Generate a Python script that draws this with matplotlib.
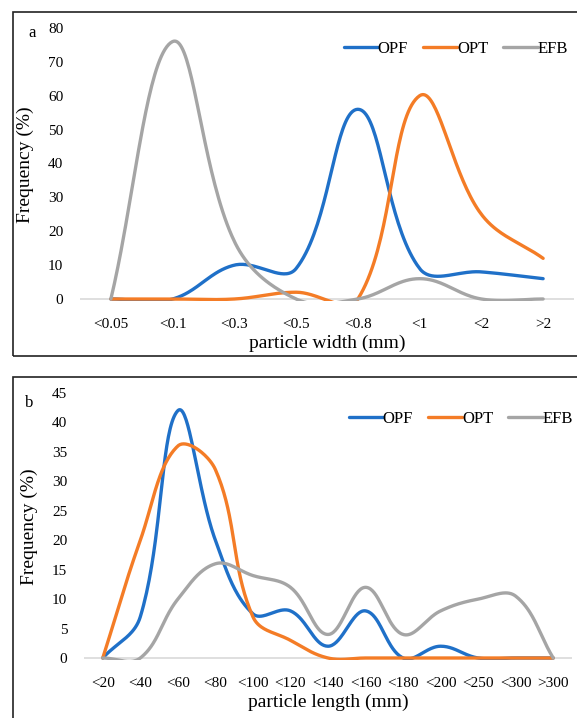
#----------------------------------------------------------------------
# import libraries
#----------------------------------------------------------------------

import numpy as np
import matplotlib
matplotlib.use("Agg")
import matplotlib.pyplot as plt
from matplotlib.patches import Rectangle

plt.rcParams['font.family'] = ['Liberation Serif', 'DejaVu Serif']

#----------------------------------------------------------------------
# data: particle size distribution (frequency %)
#----------------------------------------------------------------------

width_labels = ['<0.05', '<0.1', '<0.3', '<0.5', '<0.8', '<1', '<2', '>2']
width_opf = [0, 0, 10, 9, 56, 9, 8, 6]
width_opt = [0, 0, 0, 2, 0, 60, 25, 12]
width_efb = [0, 76, 17, 0, 0, 6, 0, 0]

length_labels = ['<20', '<40', '<60', '<80', '<100', '<120', '<140',
                 '<160', '<180', '<200', '<250', '<300', '>300']
length_opf = [0, 7, 42, 20, 7.5, 8, 2, 8, 0, 2, 0, 0, 0]
length_opt = [0, 20, 36, 32, 7, 3, 0, 0, 0, 0, 0, 0, 0]
length_efb = [0, 0, 10, 16, 14, 12, 4, 12, 4, 8, 10, 10.5, 0]

series_names = ['OPF', 'OPT', 'EFB']
colors = ['#1F70C8', '#F47C26', '#A5A5A5']

W, H = 577, 718


#----------------------------------------------------------------------
# smooth line like excel (bezier, control points weighted by chord length)
#----------------------------------------------------------------------

def smooth(ax, y, t=0.38, n=40):
    pts = ax.transData.transform(np.column_stack([np.arange(len(y)), y]))
    out = [pts[:1]]
    for i in range(len(pts) - 1):
        p1, p2 = pts[i], pts[i + 1]
        p0 = pts[i - 1] if i > 0 else p1
        p3 = pts[i + 2] if i + 2 < len(pts) else p2
        # outgoing control at p1
        d01 = np.hypot(*(p1 - p0))
        d12 = np.hypot(*(p2 - p1))
        c1 = p1 + t * d12 / (d01 + d12) * (p2 - p0)
        # incoming control at p2
        d23 = np.hypot(*(p3 - p2))
        c2 = p2 - t * d12 / (d12 + d23) * (p3 - p1)
        s = np.linspace(0, 1, n)[1:, None]
        seg = ((1 - s)**3 * p1 + 3 * (1 - s)**2 * s * c1
               + 3 * (1 - s) * s**2 * c2 + s**3 * p2)
        out.append(seg)
    pix = np.vstack(out)
    data = ax.transData.inverted().transform(pix)
    return data[:, 0], data[:, 1]


def make_panel(rect_px, labels, data, ymax, ystep, xlabel, leg_xy):
    # rect_px: left, zero line y, right, top y (pixels from top)
    left, zero, right, top = rect_px
    cut = 2.0                      # lines clipped just below zero
    scale = (zero - top) / ymax
    ymin = -cut / scale
    ax = fig.add_axes([left / W, (H - zero - cut) / H,
                       (right - left) / W, (zero + cut - top) / H])
    ax.set_xlim(-0.5, len(labels) - 0.5)
    ax.set_ylim(ymin, ymax)

    ax.axhline(0, color='#D9D9D9', lw=1.2, zorder=0)
    for vals, name, c in zip(data, series_names, colors):
        x, y = smooth(ax, vals)
        ax.plot(x, y, color=c, lw=2.4, label=name, solid_capstyle='round')

    ax.set_xticks(range(len(labels)))
    ax.set_xticklabels(labels)
    ax.set_yticks(np.arange(0, ymax + 1, ystep))
    ax.tick_params(length=0, labelsize=11)
    ax.tick_params(axis='x', pad=12)
    ax.tick_params(axis='y', pad=12)
    for s in ax.spines.values():
        s.set_visible(False)
    ax.set_xlabel(xlabel, fontsize=14, labelpad=3)
    ax.set_ylabel('Frequency (%)', fontsize=14, labelpad=10)
    ax.patch.set_alpha(0)
    ax.legend(loc='center right', ncol=3, frameon=False, fontsize=12,
              handlelength=2.05, handletextpad=0.0, columnspacing=0.9,
              borderaxespad=0, borderpad=0,
              bbox_to_anchor=((leg_xy[0] - left) / (right - left),
                              (zero - leg_xy[1]) / (zero + cut - top)))
    return ax


#-----------------------------------------------------------------------
# figure
#-----------------------------------------------------------------------

fig = plt.figure(figsize=(W / 100, H / 100), dpi=100)

# panel frames
fig.patches.append(Rectangle((13 / W, 1 - 356 / H), 0.99, (356 - 12) / H,
                             transform=fig.transFigure, fill=False,
                             edgecolor='#222222', lw=1.2))
fig.patches.append(Rectangle((13 / W, -0.05), 0.99, 0.05 + (H - 377) / H,
                             transform=fig.transFigure, fill=False,
                             edgecolor='#222222', lw=1.2))

make_panel((80, 299, 574, 28), width_labels,
           [width_opf, width_opt, width_efb], 80, 10,
           'particle width (mm)', (568, 47))
fig.text(28 / W, 1 - 33 / H, 'a', fontsize=12, va='center')

make_panel((84, 658, 572, 393), length_labels,
           [length_opf, length_opt, length_efb], 45, 5,
           'particle length (mm)', (573, 417))
fig.text(25 / W, 1 - 403 / H, 'b', fontsize=12, va='center')

fig.savefig('out.png', dpi=100)
